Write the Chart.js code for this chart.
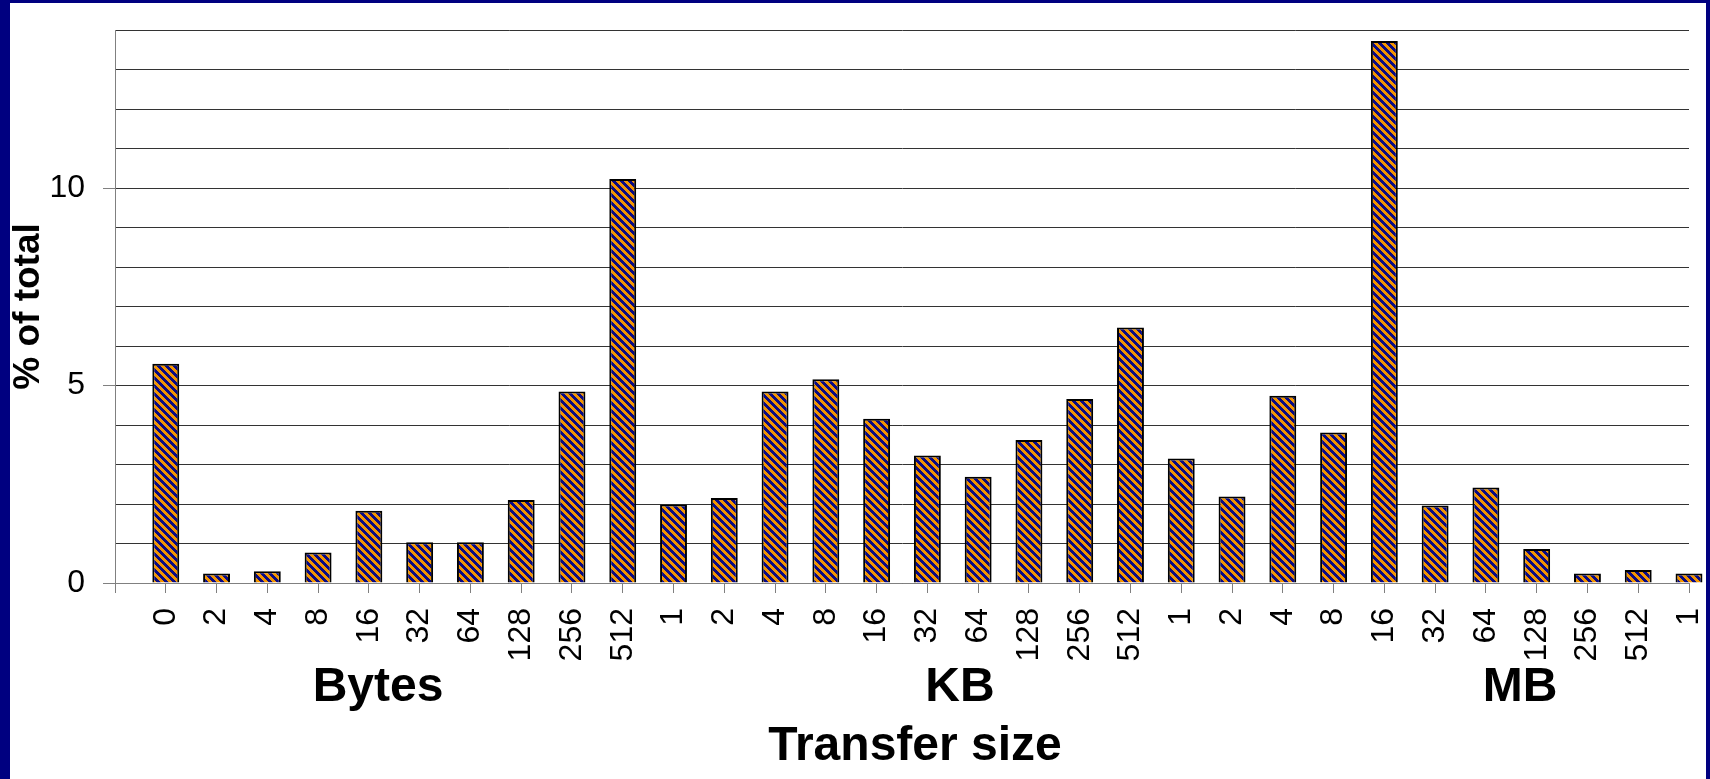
<!DOCTYPE html>
<html>
<head>
<meta charset="utf-8">
<title>Transfer size</title>
<script src="https://cdn.jsdelivr.net/npm/chart.js@4.4.1/dist/chart.umd.min.js"></script>
<style>
  html, body { margin: 0; padding: 0; background: #000080; overflow: hidden; }
  #frame { position: absolute; left: 10px; top: 3px; width: 1696px; height: 776px; background: #fff; overflow: hidden; }
</style>
</head>
<body>
<div id="frame"><canvas id="chart" width="1696" height="776"></canvas></div>
<script>
// Transfer sizes: Bytes, KB, MB and a last 1 GB bucket
const sizeLabels = [
    '0', '2', '4', '8', '16', '32', '64', '128', '256', '512',
    '1', '2', '4', '8', '16', '32', '64', '128', '256', '512',
    '1', '2', '4', '8', '16', '32', '64', '128', '256', '512',
    '1'
];
const percentOfTotal = [
    5.55, 0.24, 0.30, 0.77, 1.83, 1.03, 1.03, 2.10, 4.85, 10.23,
    1.99, 2.15, 4.85, 5.16, 4.16, 3.23, 2.69, 3.62, 4.66, 6.47,
    3.15, 2.19, 4.74, 3.81, 13.72, 1.96, 2.42, 0.86, 0.24, 0.33,
    0.24
];
const groupNames = ['Bytes', 'KB', 'MB'];
const xTitle = 'Transfer size';
const yTitle = '% of total';
const yLabelledTicks = [0, 5, 10];
const yMax = 14;

const FONT = "'Liberation Sans', Arial, sans-serif";

// orange / navy diagonal hatch used to fill the bars
function makeHatch() {
    const size = 8;
    const tile = document.createElement('canvas');
    tile.width = size;
    tile.height = size;
    const t = tile.getContext('2d');
    for (let y = 0; y < size; y++) {
        for (let x = 0; x < size; x++) {
            t.fillStyle = ((x - y + size) % size) < 4 ? '#0a0a84' : '#F29400';
            t.fillRect(x, y, 1, 1);
        }
    }
    return document.getElementById('chart').getContext('2d').createPattern(tile, 'repeat');
}

// the first slot stays empty, the axis starts one category before "0"
const chartLabels = [''].concat(sizeLabels);
const chartValues = [null].concat(percentOfTotal);

// group captions under the tick labels and the axis title
const captions = {
    id: 'captions',
    afterDraw(chart) {
        const centers = [368, 950, 1510];
        const ctx = chart.ctx;
        ctx.save();
        ctx.font = 'bold 48px ' + FONT;
        ctx.fillStyle = '#000';
        ctx.textAlign = 'center';
        ctx.textBaseline = 'alphabetic';
        groupNames.forEach((name, i) => ctx.fillText(name, centers[i], 698));
        ctx.fillText(xTitle, 905, 757);
        ctx.restore();
    }
};

new Chart(document.getElementById('chart'), {
    type: 'bar',
    data: {
        labels: chartLabels,
        datasets: [{
            data: chartValues,
            backgroundColor: makeHatch(),
            borderColor: '#000',
            borderWidth: 2,
            borderSkipped: 'start',
            categoryPercentage: 1,
            barPercentage: 0.53,
            clip: false
        }]
    },
    options: {
        responsive: false,
        devicePixelRatio: 1,
        animation: false,
        layout: { padding: { top: 27, right: 17, bottom: 0, left: 0 } },
        plugins: {
            legend: { display: false },
            tooltip: { enabled: false }
        },
        scales: {
            x: {
                type: 'category',
                offset: false,
                grid: {
                    display: true,
                    offset: false,
                    drawOnChartArea: false,
                    drawTicks: true,
                    tickLength: 10,
                    tickColor: '#808080'
                },
                border: { color: '#808080', width: 1 },
                ticks: {
                    autoSkip: false,
                    minRotation: 90,
                    maxRotation: 90,
                    padding: 15,
                    color: '#000',
                    font: { size: 32, family: FONT }
                },
                afterFit(scale) {
                    scale.height = 196;
                    scale.paddingLeft = 0;
                    scale.paddingRight = 0;
                }
            },
            y: {
                min: 0,
                max: yMax,
                grid: {
                    color: '#333',
                    lineWidth: 1,
                    tickLength: 12,
                    tickColor: (ctx) => yLabelledTicks.includes(ctx.tick && ctx.tick.value) ? '#808080' : 'rgba(0,0,0,0)'
                },
                border: { color: '#808080', width: 1 },
                ticks: {
                    stepSize: 1,
                    autoSkip: false,
                    padding: 18,
                    color: '#000',
                    font: { size: 32, family: FONT },
                    callback: (v) => yLabelledTicks.includes(v) ? String(v) : ''
                },
                title: {
                    display: true,
                    text: yTitle,
                    color: '#000',
                    font: { size: 37, weight: 'bold', family: FONT, lineHeight: 1 },
                    padding: { top: 0, bottom: 0 }
                },
                afterFit(scale) {
                    scale.width = 105;
                    scale.paddingTop = 0;
                    scale.paddingBottom = 0;
                }
            }
        }
    },
    plugins: [captions]
});
</script>
</body>
</html>
